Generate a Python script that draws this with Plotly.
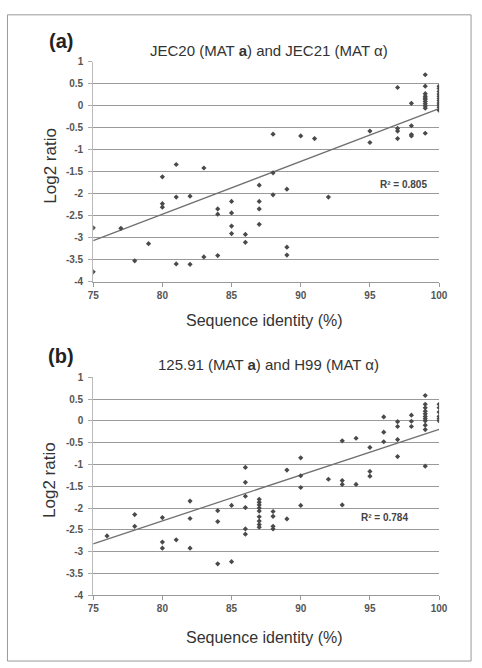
import numpy as np
import plotly.graph_objects as go

W, H = 482, 668

# ---------------- data ----------------
a_x = [75, 75, 77, 78, 79, 80, 80, 80, 81, 81, 81, 82, 82, 83, 83,
       84, 84, 84, 85, 85, 85, 85, 86, 86, 87, 87, 87, 87, 88, 88, 88,
       89, 89, 89, 90, 91, 92, 95, 95, 97, 97, 97, 97, 98, 98, 98, 98,
       99, 99, 99, 99, 99, 99, 99, 99, 99, 99, 99,
       100, 100, 100, 100, 100, 100, 100, 100, 100, 100, 100]
a_y = [-2.77, -3.77, -2.78, -3.52, -3.13, -1.61, -2.22, -2.30, -1.33, -2.07, -3.59, -2.05, -3.60, -1.41, -3.43,
       -2.34, -2.46, -3.40, -2.17, -2.43, -2.73, -2.90, -2.92, -3.10, -1.80, -2.17, -2.34, -2.69, -0.64, -1.52, -2.02,
       -1.89, -3.21, -3.39, -0.68, -0.74, -2.07, -0.57, -0.83, 0.42, -0.51, -0.57, -0.74, 0.06, -0.45, -0.65, -0.68,
       0.71, 0.45, 0.28, 0.22, 0.18, 0.15, 0.10, 0.05, 0.00, -0.05, -0.62,
       0.45, 0.40, 0.33, 0.27, 0.22, 0.17, 0.12, 0.07, 0.02, -0.03, -0.10]

b_x = [76, 78, 78, 80, 80, 80, 81, 82, 82, 82, 84, 84, 84, 85, 85,
       86, 86, 86, 86, 86, 86, 87, 87, 87, 87, 87, 87, 87, 87, 87,
       88, 88, 88, 88, 89, 89, 90, 90, 90, 90, 92, 93, 93, 93, 93, 94, 94,
       95, 95, 95, 96, 96, 96, 97, 97, 97, 97, 98, 98, 98,
       99, 99, 99, 99, 99, 99, 99, 99, 99, 99, 99,
       100, 100, 100, 100, 100, 100]
b_y = [-2.64, -2.15, -2.42, -2.22, -2.78, -2.92, -2.73, -1.84, -2.24, -2.92, -2.06, -2.31, -3.28, -1.94, -3.23,
       -1.07, -1.41, -1.73, -1.99, -2.48, -2.60, -1.80, -1.87, -1.93, -2.00, -2.07, -2.20, -2.30, -2.38, -2.44,
       -2.08, -2.19, -2.42, -2.48, -1.13, -2.25, -0.85, -1.26, -1.53, -1.94, -1.34, -0.46, -1.37, -1.46, -1.93, -0.40, -1.46,
       -0.61, -1.16, -1.27, 0.09, -0.26, -0.48, -0.02, -0.13, -0.43, -0.82, 0.13, -0.01, -0.13,
       0.58, 0.38, 0.30, 0.22, 0.16, 0.10, 0.05, 0.00, -0.10, -0.20, -1.04,
       0.38, 0.30, 0.20, 0.10, 0.05, 0.00]

# linear trendlines: (slope, intercept)
a_trend = (0.120, -12.06)
b_trend = (0.105, -10.695)

panel_titles = ["JEC20 (MAT <b>a</b>) and JEC21 (MAT α)",
                "125.91 (MAT <b>a</b>) and H99 (MAT α)"]
panel_labels = ["(a)", "(b)"]
r2_labels = ["R² = 0.805", "R² = 0.784"]
x_ticks = [75, 80, 85, 90, 95, 100]
y_ticks = [1, 0.5, 0, -0.5, -1, -1.5, -2, -2.5, -3, -3.5, -4]
y_tick_text = ["1", "0.5", "0", "-0.5", "-1", "-1.5", "-2", "-2.5", "-3", "-3.5", "-4"]

# ---------------- layout helpers ----------------
def px(x):
    return x / W

def py(y):
    return 1 - y / H

PL, PR = 90, 447
panels = [dict(top=57, bot=281, xtitle=320, title=45, lab=36, r2=(437, 182)),
          dict(top=378, bot=600, xtitle=643, title=365, lab=356, r2=(417, 521))]

FONT = "Liberation Sans, Arial, sans-serif"
fig = go.Figure()
annotations = []

datasets = [(a_x, a_y, a_trend), (b_x, b_y, b_trend)]
for i, (xs, ys, tr) in enumerate(datasets):
    xa = "x" if i == 0 else "x2"
    ya = "y" if i == 0 else "y2"
    slope, inter = tr
    lx = np.array([75.0, 100.0])
    fig.add_trace(go.Scatter(x=lx, y=slope * lx + inter, mode="lines", xaxis=xa, yaxis=ya,
                             line=dict(color="#707070", width=1.3),
                             showlegend=False, hoverinfo="skip"))
    fig.add_trace(go.Scatter(x=xs, y=ys, mode="markers", xaxis=xa, yaxis=ya,
                             marker=dict(symbol="diamond", size=4, color="#4a4a4a"),
                             showlegend=False, hoverinfo="x+y"))

    p = panels[i]
    annotations += [
        dict(text=panel_titles[i], x=px(271), y=py(p["title"]), xref="paper", yref="paper",
             showarrow=False, xanchor="center", yanchor="middle",
             font=dict(family=FONT, size=15, color="#333")),
        dict(text="<b>" + panel_labels[i] + "</b>", x=px(57), y=py(p["lab"]), xref="paper", yref="paper",
             showarrow=False, xanchor="center", yanchor="middle",
             font=dict(family=FONT, size=20, color="#222")),
        dict(text="Sequence identity (%)", x=px(267), y=py(p["xtitle"]), xref="paper", yref="paper",
             showarrow=False, xanchor="center", yanchor="middle",
             font=dict(family=FONT, size=16, color="#333")),
        dict(text="Log2 ratio", x=px(45), y=py((p["top"] + p["bot"]) / 2 - 6), xref="paper", yref="paper",
             showarrow=False, xanchor="center", yanchor="middle", textangle=-90,
             font=dict(family=FONT, size=17, color="#333")),
        dict(text="<b>" + r2_labels[i] + "</b>", x=px(p["r2"][0]), y=py(p["r2"][1]), xref="paper", yref="paper",
             showarrow=False, xanchor="right", yanchor="middle",
             font=dict(family=FONT, size=10, color="#444")),
    ]

def xaxis(dom_anchor):
    return dict(domain=[px(PL), px(PR)], range=[75, 100], tickvals=x_ticks,
                ticktext=[str(t) for t in x_ticks], ticks="outside", ticklen=4,
                tickcolor="#999", showline=True, linecolor="#999", linewidth=1,
                showgrid=False, zeroline=False, anchor=dom_anchor,
                tickfont=dict(family=FONT, size=10, color="#555", weight="bold"))

def yaxis(p, anchor):
    return dict(domain=[py(p["bot"]), py(p["top"])], range=[-4, 1], tickvals=y_ticks,
                ticktext=y_tick_text, ticks="outside", ticklen=4, tickcolor="#aaa",
                showline=True, linecolor="#bbb", linewidth=1,
                showgrid=True, gridcolor="#9a9a9a", gridwidth=1, zeroline=False,
                anchor=anchor, ticklabelstandoff=3,
                tickfont=dict(family=FONT, size=10, color="#555", weight="bold"))

fig.update_layout(
    width=W, height=H, margin=dict(l=0, r=0, t=0, b=0),
    paper_bgcolor="white", plot_bgcolor="white",
    xaxis=xaxis("y"), yaxis=yaxis(panels[0], "x"),
    xaxis2=xaxis("y2"), yaxis2=yaxis(panels[1], "x2"),
    annotations=annotations,
    shapes=[dict(type="rect", xref="paper", yref="paper",
                 x0=px(1.5), x1=px(480), y0=py(667), y1=py(9),
                 line=dict(color="#999", width=1))],
)

fig.write_html("out.html")
